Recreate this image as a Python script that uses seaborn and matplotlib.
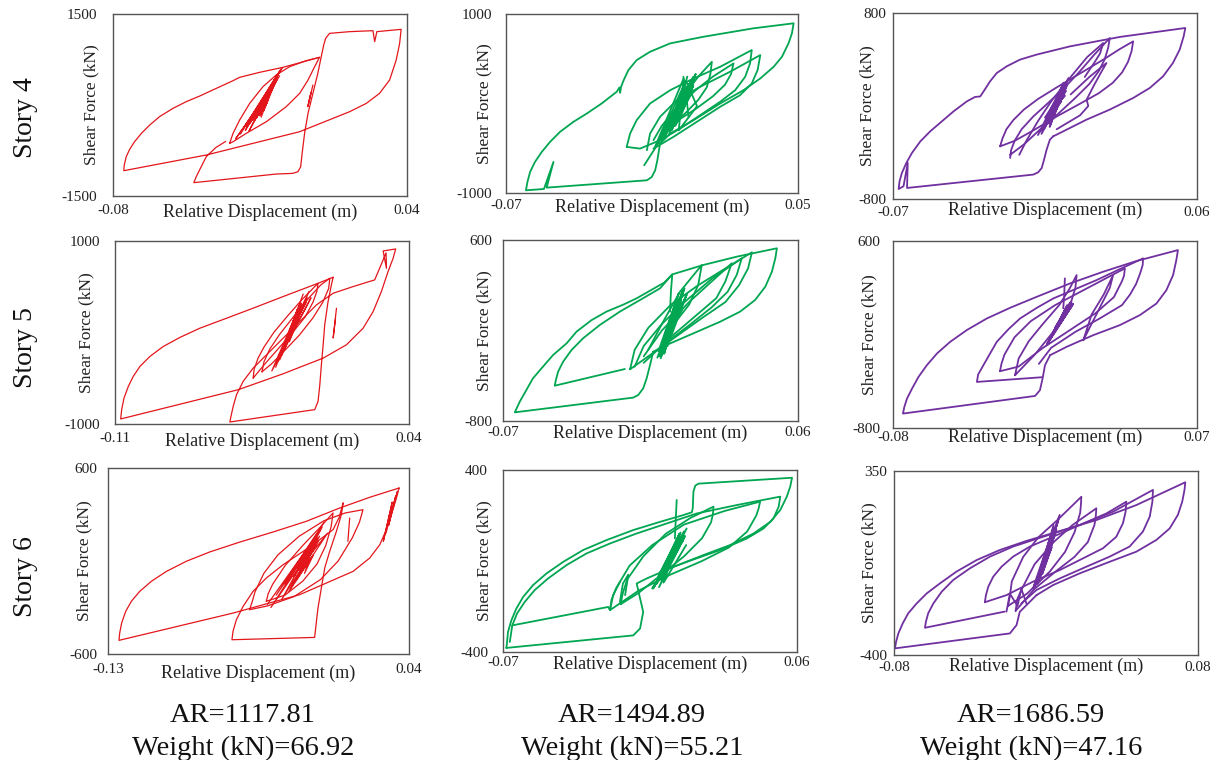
import numpy as np
import pandas as pd
import matplotlib
matplotlib.use("Agg")
import matplotlib.pyplot as plt
import seaborn as sns

sns.set_theme(style="white")
plt.rcParams["font.family"] = ["Liberation Serif", "DejaVu Serif"]

# ---------------- text / category data ----------------
stories = ["Story 4", "Story 5", "Story 6"]
ar_values = ["AR=1117.81", "AR=1494.89", "AR=1686.59"]
weight_values = ["Weight (kN)=66.92", "Weight (kN)=55.21", "Weight (kN)=47.16"]
line_colors = ["#E3161B", "#00A651", "#7030A0"]

x_limits = [[(-0.08, 0.04), (-0.07, 0.05), (-0.07, 0.06)],
            [(-0.11, 0.04), (-0.07, 0.06), (-0.08, 0.07)],
            [(-0.13, 0.04), (-0.07, 0.06), (-0.08, 0.08)]]
y_limits = [[(-1500, 1500), (-1000, 1000), (-800, 800)],
            [(-1000, 1000), (-800, 600), (-800, 600)],
            [(-600, 600), (-400, 400), (-400, 350)]]
x_tick_labels = [[("-0.08", "0.04"), ("-0.07", "0.05"), ("-0.07", "0.06")],
                 [("-0.11", "0.04"), ("-0.07", "0.06"), ("-0.08", "0.07")],
                 [("-0.13", "0.04"), ("-0.07", "0.06"), ("-0.08", "0.08")]]
y_tick_labels = [[("-1500", "1500"), ("-1000", "1000"), ("-800", "800")],
                 [("-1000", "1000"), ("-800", "600"), ("-800", "600")],
                 [("-600", "600"), ("-400", "400"), ("-400", "350")]]

N = None
# ---------------- hysteresis data (displacement m, shear kN); None splits strokes ----------------
disp_s4_c1 = [0.0043, -0.0106, -0.0202, -0.0283, -0.0310, -0.0378, -0.0446, -0.0501, -0.0555, -0.0610, -0.0650, -0.0684, -0.0712, -0.0732, -0.0746, -0.0754, -0.0756,
              -0.0419, -0.0038, 0.0166, 0.0234, 0.0288, 0.0329, 0.0356, 0.0370, 0.0376,
              0.0277, 0.0268, 0.0261, 0.0166, 0.0084,
              0.0068, 0.0060, 0.0050, 0.0036, 0.0016, -0.0004, -0.0018, -0.0028, -0.0034, -0.0045, -0.0066, -0.0134,
              -0.0470, -0.0460, -0.0440, -0.0419, -0.0380, -0.0340, N,
              -0.0324, -0.0310, -0.0283, -0.0242, -0.0188, -0.0134, -0.0079, -0.0011, 0.0043, 0.0023, -0.0004, -0.0038, -0.0093, -0.0174, -0.0256, -0.0310, -0.0324, N,
              -0.0280, -0.0120, -0.0260, -0.0110, -0.0250, -0.0140, -0.0230, -0.0125, -0.0270, -0.0150, -0.0220, -0.0135, -0.0240, -0.0160, -0.0210, -0.0145, -0.0200, -0.0130, -0.0255, -0.0170, -0.0190, -0.0155, -0.0215, -0.0115, -0.0245, -0.0165, -0.0205, -0.0140, -0.0300, -0.0120, -0.0235, -0.0175, N,
              0.0016, -0.0005, 0.0008, -0.0002, N,
              -0.0195, -0.0150, -0.0225, -0.0135, -0.0185, -0.0160, -0.0200, -0.0145, -0.0175, -0.0165, -0.0215, -0.0130, -0.0190, -0.0150, -0.0205, -0.0140]
force_s4_c1 = [786, 621, 538, 456, 401, 275, 148, 55, -55, -192, -330, -467, -605, -731, -852, -989, -1083,
               -824, -440, -110, 27, 192, 412, 742, 1016, 1247,
               1209, 1044, 1225, 1209, 1181,
               1099, 989, 797, 522, 192, -137, -467, -797, -1017, -1099, -1127, -1138,
               -1280, -1180, -1017, -850, -700, -600, N,
               -632, -467, -247, 27, 302, 494, 632, 731, 786, 632, 412, 192, -28, -275, -467, -605, -632, N,
               -480, 560, -420, 610, -330, 420, -250, 520, -400, 300, -180, 450, -300, 220, -100, 380, -50, 500, -360, 150, -20, 280, -150, 590, -430, 180, -120, 350, -560, 480, -260, 100, N,
               330, -28, 200, 20, N,
               -200, 300, -280, 400, -100, 250, -180, 350, 0, 150, -220, 420, -60, 280, -160, 380]

disp_s4_c2 = [-0.0067, -0.0078, -0.0087, -0.0101, -0.0121, -0.0533, -0.0505, -0.0544, -0.0618,
              -0.0612, -0.0601, -0.0581, -0.0553, -0.0519, -0.0478, -0.0423, -0.0368, -0.0307, -0.0245, -0.0234, -0.0231, -0.0227, -0.0215, -0.0197, -0.0163, -0.0108, -0.0025, 0.0112, 0.0317, 0.0482,
              0.0475, 0.0461, 0.0434, 0.0400, 0.0345, 0.0276, 0.0180, 0.0071, -0.0025, -0.0067, N,
              -0.0204, -0.0190, -0.0163, -0.0108, -0.0025, 0.0071, 0.0180, 0.0310, 0.0303, 0.0283, 0.0242, 0.0180, 0.0098, 0.0016, -0.0067, -0.0149, -0.0204, N,
              -0.0121, -0.0108, -0.0067, 0.0002, 0.0098, 0.0221, 0.0345, 0.0334, 0.0310, 0.0262, 0.0180, 0.0084, -0.0012, -0.0094, N,
              -0.0094, -0.0060, 0.0000, 0.0080, 0.0150, 0.0235, 0.0225, 0.0200, 0.0150, 0.0080, 0.0000, -0.0060, N,
              -0.0040, -0.0010, 0.0040, 0.0090, 0.0146, 0.0140, 0.0125, 0.0090, 0.0040, -0.0020, N,
              0.0029, 0.0043, 0.0050, N,
              -0.0132, -0.0040, 0.0060, -0.0060, 0.0080, -0.0020, 0.0045, -0.0080, 0.0070, 0.0000, 0.0050, -0.0030, 0.0030, 0.0020, 0.0075, -0.0050, 0.0060, -0.0010, 0.0040, 0.0085, 0.0010, 0.0030, -0.0090, 0.0050, -0.0045, 0.0065, -0.0015, 0.0035, -0.0070, 0.0055, 0.0005, 0.0045, N,
              0.0010, 0.0060, -0.0005, 0.0070, 0.0015, 0.0055, -0.0020, 0.0065, 0.0025, 0.0050, 0.0000, 0.0068, 0.0012, 0.0058]
force_s4_c2 = [-448, -634, -746, -821, -858, -940, -653, -955, -970,
               -877, -765, -653, -541, -429, -317, -205, -112, 0, 131, 179, 119, 187, 269, 373, 485, 578, 672, 746, 840, 896,
               784, 672, 522, 410, 280, 149, 0, -186, -336, -448, N,
               -485, -336, -186, 0, 149, 280, 410, 597, 448, 299, 149, 19, -130, -280, -410, -504, -485, N,
               -522, -336, -149, 37, 187, 355, 541, 373, 224, 93, -37, -205, -373, -504, N,
               -410, -250, -50, 150, 300, 448, 330, 210, 80, -60, -200, -330, N,
               -300, -100, 120, 300, 466, 330, 180, 40, -100, -250, N,
               299, 37, -150, N,
               -690, -300, 250, -420, 330, -200, 180, -450, 300, -100, 220, -350, 150, -30, 280, -380, 100, -250, 250, -30, -300, 280, -500, 120, -280, 200, -150, 230, -400, 160, -80, 300, N,
               -200, 150, -250, 200, -120, 120, -300, 180, -60, 80, -220, 210, -150, 100]

disp_s4_c3 = [-0.0015, -0.0029, -0.0043, -0.0054, -0.0064, -0.0079, -0.0100, -0.0640, -0.0637, -0.0655, -0.0676,
              -0.0672, -0.0662, -0.0643, -0.0619, -0.0583, -0.0541, -0.0491, -0.0441, -0.0384, -0.0349, -0.0327, -0.0306, -0.0285, -0.0256, -0.0214, -0.0157, -0.0086, 0.0057, 0.0270, 0.0550,
              0.0543, 0.0526, 0.0497, 0.0455, 0.0398, 0.0327, 0.0227, 0.0128, 0.0028, -0.0015, N,
              -0.0242, -0.0232, -0.0215, -0.0185, -0.0140, -0.0080, 0.0000, 0.0100, 0.0200, 0.0270, 0.0327, 0.0320, 0.0305, 0.0280, 0.0240, 0.0180, 0.0100, 0.0000, -0.0100, -0.0180, -0.0242, N,
              -0.0199, -0.0195, -0.0180, -0.0150, -0.0100, -0.0040, 0.0030, 0.0100, 0.0160, 0.0227, 0.0220, 0.0205, 0.0180, 0.0140, 0.0080, 0.0010, -0.0070, -0.0140, -0.0199, N,
              -0.0160, -0.0130, -0.0080, -0.0020, 0.0060, 0.0130, 0.0199, 0.0185, 0.0160, 0.0120, N,
              0.0060, 0.0140, 0.0213, 0.0190, 0.0160, 0.0128, 0.0135, 0.0100, 0.0000, N,
              -0.0080, 0.0030, -0.0060, 0.0040, -0.0040, 0.0020, -0.0050, 0.0035, -0.0030, 0.0010, -0.0040, 0.0040, -0.0020, 0.0020, -0.0070, 0.0050, -0.0030, 0.0025, -0.0010, 0.0015, -0.0055, 0.0045, -0.0025, 0.0030, -0.0065, 0.0042, -0.0035, 0.0020, -0.0015, 0.0035, N,
              -0.0025, 0.0012, -0.0020, 0.0018, -0.0028, 0.0010, -0.0015, 0.0022, -0.0030, 0.0008, -0.0018, 0.0016, -0.0022, 0.0014]
force_s4_c3 = [-261, -289, -375, -461, -533, -570, -590, -705, -490, -690, -714,
               -648, -576, -490, -404, -304, -218, -132, -46, 40, 78, 82, 146, 212, 284, 341, 399, 442, 513, 594, 671,
               599, 485, 370, 255, 155, 69, -31, -117, -218, -261, N,
               -347, -280, -200, -120, -30, 60, 160, 280, 400, 490, 556, 470, 380, 290, 200, 110, 20, -90, -210, -300, -347, N,
               -447, -380, -300, -200, -90, 20, 150, 300, 440, 585, 500, 400, 300, 190, 70, -60, -200, -330, -420, N,
               -420, -300, -130, 50, 250, 420, 542, 450, 370, 250, N,
               100, 250, 370, 290, 180, 55, 0, -80, -200, N,
               -250, 200, -200, 160, -150, 120, -100, 90, -60, 60, -120, 130, -20, 40, -220, 240, -180, 150, -80, 100, -200, 180, -130, 110, -240, 200, -150, 70, -90, 150, N,
               -80, 70, -60, 90, -100, 50, -40, 80, -90, 60, -70, 100, -50, 40]

disp_s5_c1 = [0.0013, -0.0064, -0.0242, -0.0395, -0.0531, -0.0667, -0.0769, -0.0854, -0.0922, -0.0973, -0.1007, -0.1032, -0.1054, -0.1066, -0.1071,
              -0.0471, -0.0242, -0.0038, 0.0081, 0.0166, 0.0217, 0.0259, 0.0293, 0.0319, 0.0332,
              0.0268, 0.0285, 0.0283, 0.0225,
              0.0115, 0.0013, -0.0072, -0.0157, -0.0242, -0.0327, -0.0395, -0.0446, -0.0480, -0.0497, -0.0510, -0.0514,
              -0.0081, -0.0064, -0.0055, -0.0047, -0.0038, -0.0030, -0.0013, 0.0004, 0.0013, N,
              -0.0395, -0.0390, -0.0370, -0.0340, -0.0290, -0.0220, -0.0150, -0.0100, -0.0064, -0.0070, -0.0090, -0.0130, -0.0190, -0.0260, -0.0330, -0.0395, N,
              -0.0350, -0.0340, -0.0310, -0.0260, -0.0190, -0.0110, -0.0050, -0.0004, -0.0010, -0.0040, -0.0090, -0.0160, -0.0240, -0.0300, -0.0350, N,
              -0.0280, -0.0140, -0.0250, -0.0120, -0.0230, -0.0150, -0.0260, -0.0110, -0.0220, -0.0170, -0.0240, -0.0130, -0.0200, -0.0160, -0.0270, -0.0140, -0.0210, -0.0180, -0.0300, -0.0100, -0.0235, -0.0155, -0.0190, -0.0125, -0.0265, -0.0175, N,
              0.0030, 0.0013, 0.0025, N,
              -0.0220, -0.0170, -0.0205, -0.0160, -0.0215, -0.0175, -0.0200, -0.0150, -0.0225, -0.0165]
force_s5_c1 = [604, 538, 393, 266, 156, 47, -54, -153, -262, -371, -480, -589, -716, -844, -945,
               -625, -451, -280, -134, 47, 229, 447, 665, 811, 913,
               891, 702, 870, 575,
               502, 429, 302, 120, -62, -244, -389, -534, -680, -807, -934, -978,
               -843, -753, -571, -353, -134, 84, 338, 520, 604, N,
               -498, -400, -280, -160, 0, 180, 350, 460, 538, 450, 330, 170, 10, -160, -330, -498, N,
               -430, -320, -180, -20, 170, 380, 520, 593, 480, 330, 160, -30, -210, -340, -430, N,
               -380, 420, -250, 380, -150, 300, -300, 450, -50, 250, -200, 350, 0, 200, -320, 300, -100, 180, -420, 380, -180, 260, 60, 330, -260, 120, N,
               265, -60, 150, N,
               -60, 250, -20, 300, -100, 200, 0, 320, -120, 220]

disp_s5_c2 = [-0.0038, -0.0052, -0.0067, -0.0082, -0.0104, -0.0126, -0.0648,
              -0.0626, -0.0597, -0.0568, -0.0524, -0.0479, -0.0420, -0.0376, -0.0310, -0.0244, -0.0170, -0.0111, -0.0050, 0.0010, 0.0046, 0.0183, 0.0330, 0.0507,
              0.0500, 0.0485, 0.0456, 0.0411, 0.0345, 0.0257, 0.0139, 0.0021, -0.0038, N,
              -0.0163, -0.0472, -0.0467, -0.0457, -0.0435, -0.0398, -0.0347, -0.0273, -0.0185, -0.0096, -0.0008, 0.0046, 0.0040, 0.0036, N,
              -0.0140, -0.0120, -0.0060, 0.0040, 0.0160, 0.0280, 0.0397, 0.0380, 0.0340, 0.0280, 0.0180, 0.0060, -0.0060, -0.0140, N,
              -0.0120, -0.0080, 0.0000, 0.0100, 0.0220, 0.0352, 0.0330, 0.0290, 0.0220, 0.0120, 0.0000, -0.0080, N,
              -0.0080, 0.0000, 0.0120, 0.0308, 0.0280, 0.0240, 0.0160, 0.0040, N,
              -0.0060, 0.0000, 0.0080, 0.0176, 0.0160, 0.0120, 0.0040, N,
              -0.0010, 0.0090, 0.0000, 0.0100, 0.0020, 0.0080, -0.0005, 0.0110, 0.0030, 0.0070, 0.0010, 0.0095, 0.0040, 0.0060, -0.0020, 0.0105, 0.0025, 0.0085, 0.0005, 0.0075, -0.0015, 0.0090, N,
              0.0030, 0.0075, 0.0020, 0.0080, 0.0035, 0.0070, 0.0025, 0.0065, 0.0040, 0.0072]
force_s5_c2 = [-264, -367, -470, -547, -599, -619, -733,
               -650, -560, -470, -380, -289, -200, -109, -20, 46, 100, 149, 210, 270, 334, 407, 471, 536,
               458, 355, 239, 136, 46, -32, -122, -212, -264, N,
               -398, -527, -483, -418, -341, -251, -160, -57, 46, 136, 226, 334, 200, 46, N,
               -400, -250, -80, 100, 250, 380, 505, 380, 250, 120, 0, -150, -300, -400, N,
               -380, -220, -50, 120, 300, 458, 330, 200, 80, -60, -220, -350, N,
               -300, -100, 120, 420, 280, 150, 30, -150, N,
               -250, -50, 200, 407, 250, 100, -80, N,
               -300, 200, -250, 226, -200, 150, -315, 180, -150, 100, -280, 210, -100, 50, -310, 160, -220, 120, -180, 190, -260, 60, N,
               -120, 120, -160, 150, -80, 80, -140, 130, -60, 100]

disp_s5_c3 = [-0.0025, -0.0050, -0.0062, -0.0075, -0.0099, -0.0751,
              -0.0744, -0.0731, -0.0706, -0.0674, -0.0633, -0.0583, -0.0518, -0.0436, -0.0337, -0.0222, -0.0091, 0.0073, 0.0237, 0.0401, 0.0606,
              0.0598, 0.0582, 0.0549, 0.0500, 0.0418, 0.0319, 0.0188, 0.0057, -0.0025, N,
              -0.0066, -0.0386, -0.0380, -0.0354, -0.0320, -0.0288, -0.0230, -0.0173, -0.0090, -0.0009, 0.0100, 0.0204, 0.0320, 0.0434, 0.0432, 0.0420, 0.0400, 0.0370, 0.0330, 0.0220, 0.0100, -0.0020, -0.0080, N,
              -0.0272, -0.0265, -0.0250, -0.0200, -0.0120, 0.0000, 0.0150, 0.0250, 0.0344, 0.0340, 0.0330, 0.0290, 0.0200, 0.0080, -0.0060, -0.0180, -0.0272, N,
              -0.0198, -0.0190, -0.0180, -0.0130, -0.0060, 0.0020, 0.0070, 0.0106, 0.0100, 0.0080, 0.0040, -0.0020, -0.0100, -0.0198, N,
              0.0139, 0.0180, 0.0240, 0.0286, 0.0270, 0.0220, 0.0139, N,
              0.0048, 0.0045, 0.0040, N,
              -0.0042, 0.0060, -0.0030, 0.0080, -0.0020, 0.0070, -0.0040, 0.0089, 0.0000, 0.0050, -0.0035, 0.0075, -0.0010, 0.0065, -0.0040, 0.0085, -0.0025, 0.0055, 0.0005, 0.0080, N,
              -0.0010, 0.0045, -0.0005, 0.0050, -0.0015, 0.0040, 0.0000, 0.0055, -0.0008, 0.0048]
force_s5_c3 = [-255, -330, -430, -517, -560, -692,
               -642, -580, -505, -417, -330, -242, -155, -67, 20, 100, 182, 282, 370, 450, 532,
               457, 345, 232, 132, 45, -30, -105, -192, -255, N,
               -420, -455, -400, -330, -240, -155, -60, 20, 100, 170, 240, 307, 390, 470, 420, 360, 280, 200, 120, 20, -80, -200, -320, N,
               -375, -320, -250, -120, 0, 120, 240, 320, 395, 340, 300, 180, 60, -60, -200, -340, -375, N,
               -405, -350, -280, -150, -20, 120, 240, 345, 250, 150, 30, -100, -250, -405, N,
               -143, 50, 200, 345, 250, 100, -143, N,
               320, 200, 95, N,
               -180, 120, -150, 145, -120, 100, -170, 130, -60, 60, -160, 140, -90, 110, -175, 120, -130, 80, -40, 140, N,
               -90, 60, -70, 80, -100, 50, -50, 90, -80, 70]

disp_s6_c1 = [0.0344, 0.0178, 0.0009, -0.0180, -0.0368, -0.0556, -0.0726, -0.0858, -0.0970, -0.1055, -0.1121, -0.1168, -0.1200, -0.1223, -0.1234, -0.1238,
              -0.0594, -0.0217, 0.0084, 0.0178, 0.0235, 0.0272, 0.0306, 0.0329, 0.0344, N,
              0.0028, 0.0018, -0.0010, -0.0048, -0.0076, -0.0095, -0.0114, -0.0127, -0.0133, -0.0600,
              -0.0594, -0.0575, -0.0537, -0.0481, -0.0406, -0.0311, -0.0198, -0.0104, -0.0029, 0.0005, 0.0028, N,
              0.0310, 0.0335, 0.0285, 0.0325, 0.0270, 0.0305, 0.0255, 0.0290, N,
              -0.0500, -0.0485, -0.0470, -0.0420, -0.0340, -0.0220, -0.0080, 0.0040, 0.0140, 0.0130, 0.0120, 0.0080, 0.0000, -0.0100, -0.0250, -0.0400, -0.0500, N,
              -0.0406, -0.0395, -0.0370, -0.0300, -0.0200, -0.0100, -0.0029, -0.0035, -0.0040, -0.0070, -0.0120, -0.0200, -0.0300, -0.0406, N,
              0.0065, 0.0055, N,
              -0.0400, -0.0100, -0.0350, -0.0080, -0.0300, -0.0120, -0.0250, -0.0150, -0.0380, -0.0090, -0.0220, -0.0130, -0.0280, -0.0060, -0.0200, -0.0170, -0.0320, -0.0110, -0.0240, -0.0140, -0.0190, -0.0160, -0.0270, -0.0105, -0.0230, -0.0145, N,
              -0.0215, -0.0150, -0.0225, -0.0140, -0.0205, -0.0160, -0.0230, -0.0135, -0.0195, -0.0155]
force_s6_c1 = [471, 411, 342, 256, 187, 122, 58, -2, -67, -131, -196, -260, -325, -400, -465, -512,
               -336, -217, -67, 19, 105, 202, 320, 406, 471, N,
               374, 299, 191, 62, -45, -174, -303, -432, -493, -508,
               -454, -379, -293, -196, -110, -24, 62, 138, 202, 280, 374, N,
               342, 450, 230, 420, 180, 380, 127, 300, N,
               -314, -260, -200, -80, 40, 160, 260, 310, 331, 290, 250, 150, 0, -120, -230, -290, -314, N,
               -260, -210, -150, -30, 100, 220, 310, 260, 220, 100, -20, -130, -220, -260, N,
               277, 127, N,
               -280, 200, -220, 250, -150, 150, -100, 80, -300, 220, -60, 100, -200, 180, -20, 60, -250, 130, -130, 40, -80, 20, -180, 160, -40, 120, N,
               -60, 60, -90, 90, -40, 40, -110, 110, -20, 70]

disp_s6_c2 = [-0.0685, -0.0682, -0.0678, -0.0663, -0.0641, -0.0611, -0.0567, -0.0508, -0.0434, -0.0346, -0.0242, -0.0124, -0.0006, 0.0098, 0.0135,
              0.0139, 0.0142, 0.0150, 0.0164, 0.0578,
              0.0570, 0.0555, 0.0526, 0.0482, 0.0408, 0.0304, 0.0186, 0.0053, -0.0065, -0.0109, -0.0080, -0.0094, -0.0124, -0.0685, N,
              -0.0670, -0.0659, -0.0638, -0.0604, -0.0560, -0.0501, -0.0419, -0.0331, -0.0227, -0.0109, 0.0024, 0.0157, 0.0334, 0.0526,
              0.0519, 0.0496, 0.0452, 0.0378, 0.0260, 0.0112, -0.0006, N,
              -0.0659, -0.0235, -0.0227, -0.0213, -0.0183, N,
              -0.0227, -0.0220, -0.0200, -0.0140, -0.0040, 0.0100, 0.0280, 0.0437, 0.0430, 0.0420, 0.0380, 0.0300, 0.0180, 0.0040, -0.0100, -0.0227, N,
              -0.0180, -0.0170, -0.0150, -0.0080, 0.0020, 0.0130, 0.0231, 0.0228, 0.0220, 0.0180, 0.0100, 0.0000, -0.0100, -0.0180, N,
              -0.0183, -0.0170, -0.0146, -0.0160, N,
              0.0068, 0.0060, N,
              -0.0035, 0.0080, -0.0020, 0.0112, 0.0000, 0.0090, -0.0030, 0.0100, 0.0020, 0.0070, -0.0010, 0.0105, 0.0030, 0.0060, -0.0040, 0.0095, -0.0015, 0.0085, 0.0010, 0.0110, N,
              0.0020, 0.0070, 0.0010, 0.0075, 0.0025, 0.0065, 0.0015, 0.0080, 0.0030, 0.0060]
force_s6_c2 = [-382, -356, -312, -261, -209, -158, -106, -55, -4, 48, 92, 136, 172, 202, 214,
               231, 305, 331, 340, 366,
               327, 283, 224, 172, 121, 70, 26, -26, -77, -99, -224, -297, -327, -382, N,
               -356, -283, -231, -180, -128, -77, -18, 33, 77, 121, 165, 209, 246, 283,
               239, 187, 143, 99, 48, -4, -48, N,
               -283, -202, -216, -150, -92, N,
               -216, -170, -120, -20, 70, 160, 220, 261, 230, 200, 130, 60, 0, -60, -130, -216, N,
               -190, -140, -80, 20, 120, 190, 239, 205, 170, 100, 20, -60, -140, -190, N,
               -180, -100, -60, -150, N,
               268, 99, N,
               -121, 120, -100, 143, -80, 100, -110, 130, -50, 60, -115, 110, -30, 40, -121, 90, -70, 125, -95, 70, N,
               -50, 50, -70, 70, -30, 40, -60, 80, -20, 30]

disp_s6_c3 = [-0.0050, -0.0138, -0.0155, -0.0190, -0.0795,
              -0.0789, -0.0777, -0.0754, -0.0725, -0.0681, -0.0628, -0.0558, -0.0471, -0.0365, -0.0243, -0.0103, 0.0072, 0.0265, 0.0475, 0.0733,
              0.0729, 0.0717, 0.0694, 0.0651, 0.0581, 0.0475, 0.0335, 0.0178, 0.0037, -0.0050, N,
              -0.0217, -0.0637, -0.0632, -0.0620, -0.0593, -0.0549, -0.0488, -0.0401, -0.0295, -0.0173, -0.0015, 0.0178, 0.0353, 0.0563,
              0.0560, 0.0546, 0.0510, 0.0440, 0.0335, 0.0213, 0.0072, -0.0050, -0.0130, N,
              -0.0322, -0.0316, -0.0304, -0.0278, -0.0234, -0.0173, -0.0085, 0.0037, 0.0178, 0.0318, 0.0423,
              0.0419, 0.0405, 0.0370, 0.0300, 0.0195, 0.0072, -0.0068, -0.0208, -0.0322, N,
              -0.0200, -0.0190, -0.0180, -0.0120, -0.0040, 0.0060, 0.0186, 0.0184, 0.0180, 0.0150, 0.0100, 0.0020, -0.0100, -0.0200, N,
              -0.0160, -0.0150, -0.0120, -0.0060, 0.0040, 0.0140, 0.0265, 0.0262, 0.0255, 0.0220, 0.0150, 0.0050, -0.0060, -0.0160, N,
              -0.0208, -0.0190, -0.0150, -0.0130, -0.0103, N,
              -0.0068, 0.0040, -0.0050, 0.0072, -0.0030, 0.0050, -0.0060, 0.0060, -0.0010, 0.0030, -0.0045, 0.0065, -0.0020, 0.0045, -0.0065, 0.0055, -0.0035, 0.0068, -0.0015, 0.0040, N,
              -0.0015, 0.0030, -0.0020, 0.0035, -0.0010, 0.0025, -0.0025, 0.0032, -0.0005, 0.0028]
force_s6_c3 = [-156, -224, -278, -312, -373,
               -346, -312, -271, -230, -190, -149, -108, -60, -13, 28, 65, 105, 150, 211, 304,
               273, 225, 171, 116, 69, 21, -20, -67, -115, -156, N,
               -223, -289, -264, -230, -190, -142, -94, -47, 1, 42, 82, 130, 184, 273,
               225, 164, 103, 42, 1, -40, -88, -135, -190, N,
               -185, -156, -122, -81, -40, 1, 42, 82, 130, 177, 225,
               184, 137, 82, 35, -6, -54, -101, -156, -185, N,
               -200, -160, -100, 0, 80, 150, 245, 215, 180, 100, 20, -60, -150, -200, N,
               -220, -170, -120, -30, 60, 130, 198, 165, 130, 60, 0, -60, -130, -220, N,
               -223, -150, -200, -130, -190, N,
               -128, 120, -100, 171, -80, 100, -120, 140, -40, 60, -110, 150, -60, 90, -125, 110, -90, 160, -20, 130, N,
               -50, 40, -70, 60, -30, 30, -60, 70, -20, 50]

panel_disp = [[disp_s4_c1, disp_s4_c2, disp_s4_c3],
              [disp_s5_c1, disp_s5_c2, disp_s5_c3],
              [disp_s6_c1, disp_s6_c2, disp_s6_c3]]
panel_force = [[force_s4_c1, force_s4_c2, force_s4_c3],
               [force_s5_c1, force_s5_c2, force_s5_c3],
               [force_s6_c1, force_s6_c2, force_s6_c3]]

# ---------------- layout (pixels in a 1219 x 760 canvas) ----------------
W, H = 1219, 760
boxes = [[(113, 14, 407, 196), (506, 14, 798, 193), (893, 13, 1197, 199)],
         [(115, 241, 409, 424), (503, 240, 798, 421), (893, 241, 1197, 428)],
         [(108, 468, 409, 654), (503, 470, 797, 652), (894, 471, 1198, 655)]]
xlabel_drop = [[16, 14, 11], [17, 12, 9], [19, 12, 11]]
xtick_drop = [[16, 14, 15], [16, 13, 11], [17, 12, 14]]
ylabel_gap = [[22, 22, 26], [29, 19, 24], [24, 19, 25]]
ytick_gap = [[16, 14, 7], [15, 11, 13], [11, 15, 7]]
line_widths = [0.9, 1.3, 1.3]


def split_strokes(vals):
    out, cur = [], []
    for v in vals:
        if v is None:
            out.append(cur)
            cur = []
        else:
            cur.append(v)
    out.append(cur)
    return out


def to_frame(xs, ys):
    rows = []
    for sid, (sx, sy) in enumerate(zip(split_strokes(xs), split_strokes(ys))):
        for x, y in zip(sx, sy):
            rows.append((sid, x, y))
    return pd.DataFrame(rows, columns=["stroke", "disp", "force"])


fig = plt.figure(figsize=(W / 100, H / 100), dpi=100)
px2pt = 0.72
tick_fs = 11

for r in range(3):
    for c in range(3):
        l, t, rr, b = boxes[r][c]
        wpx, hpx = rr - l, b - t
        ax = fig.add_axes([l / W, 1 - b / H, wpx / W, hpx / H])
        df = to_frame(panel_disp[r][c], panel_force[r][c])
        sns.lineplot(data=df, x="disp", y="force", units="stroke", estimator=None,
                     sort=False, color=line_colors[c], linewidth=line_widths[c],
                     ax=ax, legend=False)
        x0, x1 = x_limits[r][c]
        y0, y1 = y_limits[r][c]
        ax.set_xlim(x0, x1)
        ax.set_ylim(y0, y1)
        ax.set_xticks([x0, x1])
        ax.set_xticklabels(list(x_tick_labels[r][c]))
        ax.set_yticks([y0, y1])
        ax.set_yticklabels(list(y_tick_labels[r][c]))
        ax.tick_params(axis="both", length=0, labelsize=tick_fs, colors="#222222")
        ax.tick_params(axis="x", pad=max(0.5, (xtick_drop[r][c] - 8)) * px2pt)
        ax.tick_params(axis="y", pad=ytick_gap[r][c] * px2pt)
        ax.set_xlabel("Relative Displacement (m)", fontsize=13, va="center", color="#222222")
        ax.xaxis.set_label_coords(0.5, -xlabel_drop[r][c] / hpx)
        ax.set_ylabel("Shear Force (kN)", fontsize=12.5, va="center", color="#222222")
        ax.yaxis.set_label_coords(-ylabel_gap[r][c] / wpx, 0.5)
        for sp in ax.spines.values():
            sp.set_color("#555555")
            sp.set_linewidth(1.0)
        ax.set_facecolor("white")

row_label_y = [118, 348, 577]
for r in range(3):
    fig.text(25 / W, 1 - row_label_y[r] / H, stories[r], rotation=90, fontsize=20,
             ha="center", va="center", color="#111111")

col_text_x = [243, 632, 1031]
for c in range(3):
    fig.text(col_text_x[c] / W, 1 - 722 / H, ar_values[c], fontsize=20.5,
             ha="center", va="baseline", color="#111111")
    fig.text(col_text_x[c] / W, 1 - 755 / H, weight_values[c], fontsize=20.5,
             ha="center", va="baseline", color="#111111")

fig.savefig("out.png", dpi=100, facecolor="white")
